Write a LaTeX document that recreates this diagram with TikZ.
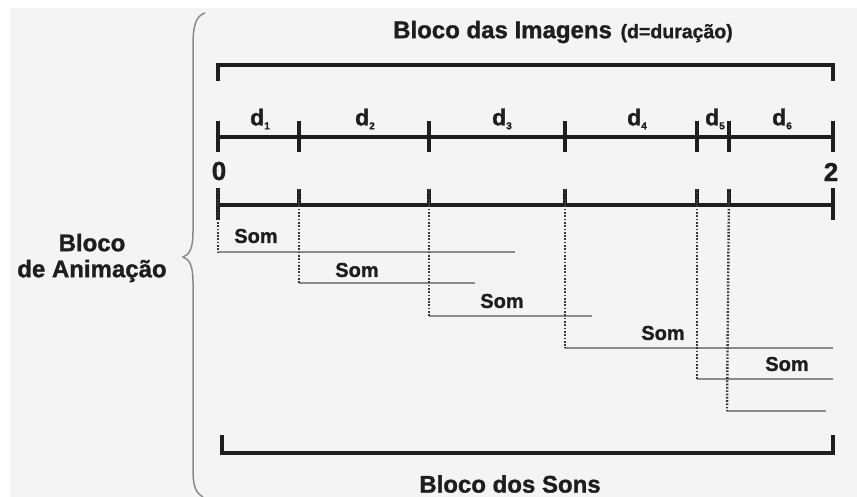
\documentclass[tikz,border=0pt]{standalone}
\usepackage{fontspec}
\setmainfont{Liberation Sans}[BoldFeatures={FakeBold=1.2}]
\definecolor{ink}{HTML}{1E1E1E}
\definecolor{paper}{HTML}{F4F4F4}
\definecolor{sgray}{HTML}{8C8C8C}
\definecolor{dgray}{HTML}{383838}
\definecolor{bracegray}{HTML}{8A8A8A}
\begin{document}
\begin{tikzpicture}[x=1pt,y=-1pt,
  bar/.style={line width=3.6pt, color=ink, line join=miter},
  tickmark/.style={line width=3.2pt, color=ink},
  soundline/.style={line width=1.8pt, color=sgray},
  dotline/.style={line width=2.4pt, color=dgray, dash pattern=on 1.7pt off 1.6pt},
  big/.style={font=\fontsize{24}{28}\selectfont\bfseries, text=ink, inner sep=0pt},
  som/.style={font=\fontsize{20}{22}\selectfont\bfseries, text=ink, inner sep=0pt},
  dur/.style={font=\fontsize{23}{24}\selectfont\bfseries, text=ink, inner sep=0pt},
  num/.style={font=\fontsize{26}{28}\selectfont\bfseries, text=ink, inner sep=0pt}]
% page and panel
\fill[white] (0,0) rectangle (857,497);
\fill[paper] (10,8) rectangle (857,497);
\useasboundingbox (0,0) rectangle (857,497);

% left brace grouping both blocks
\draw[bracegray, line width=1.5pt]
  (205,13) .. controls (196,16) and (193,25) .. (193,45) -- (193,232)
  .. controls (193,249) and (189,255) .. (183,257)
  .. controls (189,259) and (193,265) .. (193,282) -- (193,470)
  .. controls (193,487) and (196,493) .. (203,497);
\node[big, align=center] (anim) at (92,258) {Bloco\\[-2pt]de Animação};

% image block
\node[big, anchor=west] (title) at (393,32)
  {Bloco das Imagens\hspace{2pt} {\fontsize{19.5}{22}\selectfont(d=duração)}};
\draw[bar] (218,81) -- (218,65) -- (833,65) -- (833,81);

% time marks on the image line
\foreach \n/\x in {0/218,1/299,2/429,3/565,4/697,5/729,6/833}
  \coordinate (t\n) at (\x,137);
\draw[bar] (t0) -- (t6);
\foreach \n in {0,...,6}
  \draw[tickmark] ([yshift=-15pt]t\n) -- ([yshift=16pt]t\n);

% durations
\newcommand{\durlabel}[1]{d\raisebox{-4pt}{\fontsize{10}{10}\selectfont #1}}
\node[dur] (d1) at (260,119) {\durlabel{1}};
\node[dur] (d2) at (365,119) {\durlabel{2}};
\node[dur] (d3) at (502,119) {\durlabel{3}};
\node[dur] (d4) at (637,119) {\durlabel{4}};
\node[dur] (d5) at (715,119) {\durlabel{5}};
\node[dur] (d6) at (782,119) {\durlabel{6}};

\node[num] (zero) at (219,171) {0};
\node[num] (two) at (831,172) {2};

% sound start marks
\foreach \n/\x in {0/218,1/299,2/429,3/565,4/697,5/729,6/833}
  \coordinate (s\n) at (\x,205);
\draw[bar] (s0) -- (s6);
\draw[tickmark] ([yshift=-15pt]s0) -- ([yshift=17pt]s0);
\draw[tickmark] ([yshift=-15pt]s6) -- ([yshift=17pt]s6);
\foreach \n in {1,...,5}
  \draw[tickmark] (s\n) -- ([yshift=16pt]s\n);

% sound tracks
\coordinate (a1) at (218,252);  \coordinate (b1) at (515,252);
\coordinate (a2) at (299,283);  \coordinate (b2) at (475,283);
\coordinate (a3) at (429,316);  \coordinate (b3) at (592,316);
\coordinate (a4) at (565,348);  \coordinate (b4) at (833,348);
\coordinate (a5) at (697,379);  \coordinate (b5) at (833,379);
\coordinate (a6) at (727,411);  \coordinate (b6) at (826,411);
\foreach \n in {1,...,6}
  \draw[soundline] (a\n) -- (b\n);
\draw[dotline] ([yshift=16pt]s0) -- (a1);
\draw[dotline] ([yshift=16pt]s1) -- (a2);
\draw[dotline] ([yshift=16pt]s2) -- (a3);
\draw[dotline] ([yshift=16pt]s3) -- (a4);
\draw[dotline] ([yshift=16pt]s4) -- (a5);
\draw[dotline] ([yshift=16pt]s5) -- (a6);

\node[som] (som1) at (256,236) {Som};
\node[som] (som2) at (357,270) {Som};
\node[som] (som3) at (502,301) {Som};
\node[som] (som4) at (663,333) {Som};
\node[som] (som5) at (787,364) {Som};

% sound block
\draw[bar] (222,435) -- (222,453) -- (833,453) -- (833,435);
\node[big] (sons) at (510,484) {Bloco dos Sons};
\end{tikzpicture}
\end{document}
